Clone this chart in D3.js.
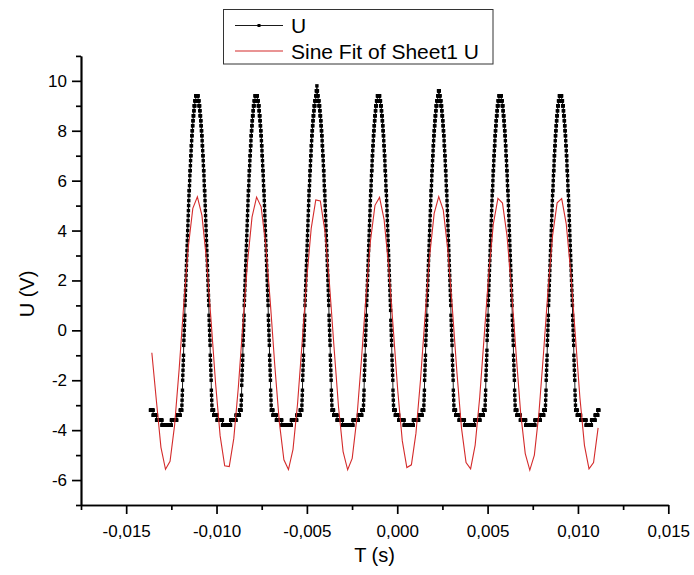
<!DOCTYPE html>
<html>
<head>
<meta charset="utf-8">
<title>U and Sine Fit</title>
<style>
  body { margin: 0; background: #fff; }
  svg text { font-family: "Liberation Sans", Arial, sans-serif; fill: #000; }
</style>
</head>
<body>
<div id="chart"></div>
<script src="https://d3js.org/d3.v7.min.js"></script>
<script>
// measured U, one sample every 10 us; each entry is a value or [value, repeat count]
var uStart = -0.013656;
var uStep = 0.00001;
var uRuns = [
  [-3.2,15],[-3.4,19],[-3.6,30],[-3.8,52],[-3.6,30],[-3.4,19],[-3.2,9],
  // pulse 1
  -3,-2.8,-2.6,-2.4,-2,-1.8,-1.6,-1.4,-1.2,-1,-0.6,-0.4,-0.2,0,0.2,0.4,0.6,1,1.2,1.4,1.6,1.8,2,2.2,2.4,2.6,2.8,3,3.2,3.4,3.6,3.8,4,4.2,4.4,4.6,4.8,5,5.2,5.4,[5.6,2],5.8,6,6.2,[6.4,2],6.6,6.8,[7,2],7.2,[7.4,2],7.6,[7.8,2],[8,2],[8.2,2],[8.4,2],[8.6,3],[8.8,2],[9,4],[9.2,5],
  [9.4,13],
  [9.2,5],[9,4],[8.8,2],[8.6,3],[8.4,2],[8.2,2],[8,2],[7.8,2],7.6,[7.4,2],7.2,[7,2],6.8,6.6,[6.4,2],6.2,6,5.8,[5.6,2],5.4,5.2,5,4.8,4.6,4.4,4.2,4,3.8,3.6,3.4,3.2,3,2.8,2.6,2.4,2.2,2,1.8,1.6,1.4,1.2,1,0.6,0.4,0.2,0,-0.2,-0.4,-0.6,-1,-1.2,-1.4,-1.6,-1.8,-2,-2.4,-2.6,-2.8,-3,
  [-3.2,9],[-3.4,19],[-3.6,30],[-3.8,45],[-3.6,30],[-3.4,19],[-3.2,9],
  // pulse 2
  -3,-2.8,-2.6,-2.2,-2,-1.8,-1.6,-1.4,-1.2,-1,-0.6,-0.4,-0.2,0,0.2,0.4,0.6,1,1.2,1.4,1.6,1.8,2,2.2,2.4,2.6,2.8,3,3.2,3.4,3.6,3.8,4,4.2,4.4,4.6,4.8,5,5.2,5.4,[5.6,2],5.8,6,6.2,[6.4,2],6.6,6.8,[7,2],7.2,[7.4,2],7.6,[7.8,2],[8,2],[8.2,2],[8.4,2],[8.6,3],[8.8,2],[9,4],[9.2,5],
  [9.4,13],
  [9.2,5],[9,4],[8.8,2],[8.6,3],[8.4,2],[8.2,2],[8,2],[7.8,2],7.6,[7.4,2],7.2,[7,2],6.8,6.6,[6.4,2],6.2,6,5.8,[5.6,2],5.4,5.2,5,4.8,4.6,4.4,4.2,4,3.8,3.6,3.4,3.2,3,2.8,2.6,2.4,2.2,2,1.8,1.6,1.4,1.2,1,0.6,0.4,0.2,0,-0.2,-0.4,-0.6,-1,-1.2,-1.4,-1.6,-1.8,-2,-2.4,-2.6,-2.8,-3,
  [-3.2,9],[-3.4,19],[-3.6,30],[-3.8,53],[-3.6,30],[-3.4,19],[-3.2,9],
  // pulse 3
  -3,-2.8,-2.6,-2.4,-2,-1.8,-1.6,-1.4,-1.2,-1,-0.6,-0.4,-0.2,0,0.2,0.4,0.6,1,1.2,1.4,1.6,1.8,2,2.2,2.4,2.6,2.8,3,3.2,3.4,3.6,3.8,4,4.2,4.4,4.6,4.8,5,5.2,5.4,[5.6,2],5.8,6,6.2,[6.4,2],6.6,6.8,[7,2],7.2,[7.4,2],7.6,[7.8,2],[8,2],[8.2,2],[8.4,2],[8.6,3],[8.8,2],[9,4],[9.2,5],
  [9.4,3],[9.6,3],9.8,[9.6,3],[9.4,3],
  [9.2,5],[9,4],[8.8,2],[8.6,3],[8.4,2],[8.2,2],[8,2],[7.8,2],7.6,[7.4,2],7.2,[7,2],6.8,6.6,[6.4,2],6.2,6,5.8,[5.6,2],5.4,5.2,5,4.8,4.6,4.4,4.2,4,3.8,3.6,3.4,3.2,3,2.8,2.6,2.4,2.2,2,1.8,1.6,1.4,1.2,1,0.6,0.4,0.2,0,-0.2,-0.4,-0.6,-1,-1.2,-1.4,-1.6,-1.8,-2,-2.4,-2.6,-2.8,-3,
  [-3.2,9],[-3.4,19],[-3.6,30],[-3.8,58],[-3.6,30],[-3.4,19],[-3.2,9],
  // pulse 4
  -3,-2.8,-2.6,-2.4,-2,-1.8,-1.6,-1.4,-1.2,-1,-0.6,-0.4,-0.2,0,0.2,0.4,0.6,1,1.2,1.4,1.6,1.8,2,2.2,2.4,2.6,2.8,3,3.2,3.4,3.6,3.8,4,4.2,4.4,4.6,4.8,5,5.2,5.4,[5.6,2],5.8,6,6.2,[6.4,2],6.6,6.8,[7,2],7.2,[7.4,2],7.6,[7.8,2],[8,2],[8.2,2],[8.4,2],[8.6,3],[8.8,2],[9,4],[9.2,5],
  [9.4,13],
  [9.2,5],[9,4],[8.8,2],[8.6,3],[8.4,2],[8.2,2],[8,2],[7.8,2],7.6,[7.4,2],7.2,[7,2],6.8,6.6,[6.4,2],6.2,6,5.8,[5.6,2],5.4,5.2,5,4.8,4.6,4.4,4.2,4,3.8,3.6,3.4,3.2,3,2.8,2.6,2.4,2.2,2,1.8,1.6,1.4,1.2,1,0.8,0.4,0.2,0,-0.2,-0.4,-0.6,-1,-1.2,-1.4,-1.6,-1.8,-2,-2.4,-2.6,-2.8,-3,
  [-3.2,9],[-3.4,19],[-3.6,30],[-3.8,51],[-3.6,30],[-3.4,19],[-3.2,9],
  // pulse 5
  -3,-2.8,-2.6,-2.4,-2,-1.8,-1.6,-1.4,-1.2,-1,-0.6,-0.4,-0.2,0,0.2,0.4,0.6,1,1.2,1.4,1.6,1.8,2,2.2,2.4,2.6,2.8,3,3.2,3.4,3.6,3.8,4,4.2,4.4,4.6,4.8,5,5.2,5.4,[5.6,2],5.8,6,6.2,[6.4,2],6.6,6.8,[7,2],7.2,[7.4,2],7.6,[7.8,2],[8,2],[8.2,2],[8.4,2],[8.6,3],[8.8,2],[9,4],[9.2,5],
  [9.4,4],[9.6,5],[9.4,4],
  [9.2,5],[9,4],[8.8,2],[8.6,3],[8.4,2],[8.2,2],[8,2],[7.8,2],7.6,[7.4,2],7.2,[7,2],6.8,6.6,[6.4,2],6.2,6,5.8,[5.6,2],5.4,5.2,5,4.8,4.6,4.4,4.2,4,3.8,3.6,3.4,3.2,3,2.8,2.6,2.4,2.2,2,1.8,1.6,1.4,1.2,1,0.6,0.4,0.2,0,-0.2,-0.4,-0.6,-1,-1.2,-1.4,-1.6,-1.8,-2,-2.4,-2.6,-2.8,-3,
  [-3.2,9],[-3.4,19],[-3.6,30],[-3.8,56],[-3.6,30],[-3.4,19],[-3.2,9],
  // pulse 6
  -3,-2.8,-2.6,-2.4,-2,-1.8,-1.6,-1.4,-1.2,-1,-0.8,-0.4,-0.2,0,0.2,0.4,0.6,1,1.2,1.4,1.6,1.8,2,2.2,2.4,2.6,2.8,3,3.2,3.4,3.6,3.8,4,4.2,4.4,4.6,4.8,5,5.2,5.4,[5.6,2],5.8,6,6.2,[6.4,2],6.6,6.8,[7,2],7.2,[7.4,2],7.6,[7.8,2],[8,2],[8.2,2],[8.4,2],[8.6,3],[8.8,2],[9,4],[9.2,5],
  [9.4,13],
  [9.2,5],[9,4],[8.8,2],[8.6,3],[8.4,2],[8.2,2],[8,2],[7.8,2],7.6,[7.4,2],7.2,[7,2],6.8,6.6,[6.4,2],6.2,6,5.8,[5.6,2],5.4,5.2,5,4.8,4.6,4.4,4.2,4,3.8,3.6,3.4,3.2,3,2.8,2.6,2.4,2.2,2,1.8,1.6,1.4,1.2,1,0.6,0.4,0.2,0,-0.2,-0.4,-0.6,-1,-1.2,-1.4,-1.6,-1.8,-2,-2.4,-2.6,-2.8,-3,
  [-3.2,9],[-3.4,19],[-3.6,30],[-3.8,51],[-3.6,30],[-3.4,19],[-3.2,9],
  // pulse 7
  -3,-2.8,-2.6,-2.4,-2,-1.8,-1.6,-1.4,-1.2,-1,-0.6,-0.4,-0.2,0,0.2,0.4,0.6,1,1.2,1.4,1.6,1.8,2,2.2,2.4,2.6,2.8,3,3.2,3.4,3.6,3.8,4,4.2,4.4,4.6,4.8,5,5.2,5.4,[5.6,2],5.8,6,6.2,[6.4,2],6.6,6.8,[7,2],7.2,[7.4,2],7.6,[7.8,2],[8,2],[8.2,2],[8.4,2],[8.6,3],[8.8,2],[9,4],[9.2,5],
  [9.4,13],
  [9.2,5],[9,4],[8.8,2],[8.6,3],[8.4,2],[8.2,2],[8,2],[7.8,2],7.6,[7.4,2],7.2,[7,2],6.8,6.6,[6.4,2],6.2,6,5.8,[5.6,2],5.4,5.2,5,4.8,4.6,4.4,4.2,4,3.8,3.6,3.4,3.2,3,2.8,2.6,2.4,2.2,2,1.8,1.6,1.4,1.2,1,0.6,0.4,0.2,0,-0.2,-0.4,-0.6,-1,-1.2,-1.4,-1.6,-1.8,-2,-2.4,-2.6,-2.8,-3,
  [-3.2,9],[-3.4,19],[-3.6,30],[-3.8,30],[-3.6,20],[-3.4,15],[-3.2,6]
];

// sine fit curve, sampled every 0.252 ms
var fitStart = -0.01358;
var fitStep = 0.000252;
var fitU = [
  -0.90, -2.82, -4.69, -5.57, -5.25, -3.80, -1.55, 1.02, 3.33, 4.89,
  5.35, 4.61, 2.83, 0.41, -2.13, -4.23, -5.43, -5.46, -4.33, -2.27,
  0.26, 2.71, 4.54, 5.34, 4.95, 3.44, 1.16, -1.41, -3.69, -5.19,
  -5.58, -4.77, -2.94, -0.50, 2.03, 4.09, 5.23, 5.19, 3.99, 1.89,
  -0.66, -3.08, -4.86, -5.59, -5.13, -3.57, -1.25, 1.31, 3.57, 5.01,
  5.33, 4.45, 2.57, 0.10, -2.41, -4.43, -5.50, -5.39, -4.12, -1.98,
  0.57, 2.97, 4.69, 5.36, 4.82, 3.21, 0.86, -1.70, -3.92, -5.30,
  -5.55, -4.60, -2.68, -0.19, 2.31, 4.28, 5.29, 5.10, 3.78, 1.60,
  -0.96, -3.33, -4.94, -5.60, -5.00, -3.32, -0.95, 1.61, 3.79, 5.11,
  5.28, 4.27, 2.30, -0.20, -2.69, -4.61, -5.55, -5.30, -3.91
];

var xTicks = [-0.015, -0.010, -0.005, 0, 0.005, 0.010, 0.015];
var xMinor = [-0.0175, -0.0125, -0.0075, -0.0025, 0.0025, 0.0075, 0.0125];
var yTicks = [-6, -4, -2, 0, 2, 4, 6, 8, 10];
var yMinor = [-7, -5, -3, -1, 1, 3, 5, 7, 9, 11];
var legendLabels = ["U", "Sine Fit of Sheet1 U"];
var axisTitles = ["T (s)", "U (V)"];

// expand the runs into samples
var uData = [];
uRuns.forEach(function(r) {
  var v = Array.isArray(r) ? r[0] : r;
  var n = Array.isArray(r) ? r[1] : 1;
  for (var j = 0; j < n; j++) {
    uData.push({ t: uStart + uData.length * uStep, u: v });
  }
});
var fitData = fitU.map(function(v, i) {
  return { t: fitStart + i * fitStep, u: v };
});

var W = 694, H = 575;
var svg = d3.select('#chart').append('svg')
    .attr('width', W)
    .attr('height', H);

var x = d3.scaleLinear().domain([-0.0175, 0.015]).range([81, 668.3]);
var y = d3.scaleLinear().domain([-7, 11]).range([505, 55.9]);

var comma = d3.formatLocale({ decimal: ',', thousands: '.', grouping: [3], currency: ['', ''], minus: '-' });

// data
var line = d3.line()
    .x(function(d) { return x(d.t); })
    .y(function(d) { return y(d.u); });

svg.append('path')
    .datum(uData)
    .attr('fill', 'none')
    .attr('stroke', '#000')
    .attr('stroke-width', 0.9)
    .attr('d', line);

var ms = 3.4; // marker size
svg.append('g')
  .selectAll('rect')
    .data(uData)
  .enter().append('rect')
    .attr('x', function(d) { return x(d.t) - ms / 2; })
    .attr('y', function(d) { return y(d.u) - ms / 2; })
    .attr('width', ms)
    .attr('height', ms)
    .attr('fill', '#000');

svg.append('path')
    .datum(fitData)
    .attr('fill', 'none')
    .attr('stroke', '#d42b2b')
    .attr('stroke-width', 1.1)
    .attr('d', line);

// axes
function styleAxis(g) {
  g.selectAll('path, line').attr('stroke', '#000').attr('stroke-width', 1.7);
  g.selectAll('text').attr('font-size', 17).attr('font-family', '"Liberation Sans", Arial, sans-serif');
}

svg.append('g')
    .attr('transform', 'translate(0,505)')
    .call(d3.axisBottom(x).tickValues(xMinor).tickSize(5).tickSizeOuter(0).tickFormat(''))
    .call(styleAxis);
svg.append('g')
    .attr('transform', 'translate(0,505)')
    .call(d3.axisBottom(x).tickValues(xTicks).tickSize(9).tickSizeOuter(0).tickPadding(11).tickFormat(comma.format('.3f')))
    .call(styleAxis);

svg.append('g')
    .attr('transform', 'translate(81,0)')
    .call(d3.axisLeft(y).tickValues(yMinor).tickSize(5).tickSizeOuter(0).tickFormat(''))
    .call(styleAxis);
svg.append('g')
    .attr('transform', 'translate(81,0)')
    .call(d3.axisLeft(y).tickValues(yTicks).tickSize(9).tickSizeOuter(0).tickPadding(5).tickFormat(comma.format('d')))
    .call(styleAxis);

svg.append('text')
    .attr('x', 374.5)
    .attr('y', 562)
    .attr('text-anchor', 'middle')
    .attr('font-size', 20)
    .text(axisTitles[0]);

svg.append('text')
    .attr('transform', 'translate(34,294) rotate(-90)')
    .attr('text-anchor', 'middle')
    .attr('font-size', 20)
    .text(axisTitles[1]);

// legend
var lg = svg.append('g');
lg.append('rect')
    .attr('x', 223.5)
    .attr('y', 9.5)
    .attr('width', 269.5)
    .attr('height', 54.5)
    .attr('fill', '#fff')
    .attr('stroke', '#333')
    .attr('stroke-width', 1);

var rowY = [25.5, 51];
var rowColor = ['#000', '#d42b2b'];
legendLabels.forEach(function(label, i) {
  lg.append('line')
      .attr('x1', 235).attr('x2', 283)
      .attr('y1', rowY[i]).attr('y2', rowY[i])
      .attr('stroke', rowColor[i])
      .attr('stroke-width', i === 0 ? 0.9 : 1.1);
  if (i === 0) {
    lg.append('rect')
        .attr('x', 257.5).attr('y', rowY[i] - 1.5)
        .attr('width', 3).attr('height', 3)
        .attr('fill', '#000');
  }
  lg.append('text')
      .attr('x', 291)
      .attr('y', rowY[i] + 7.7)
      .attr('font-size', 21)
      .text(label);
});
</script>
</body>
</html>
